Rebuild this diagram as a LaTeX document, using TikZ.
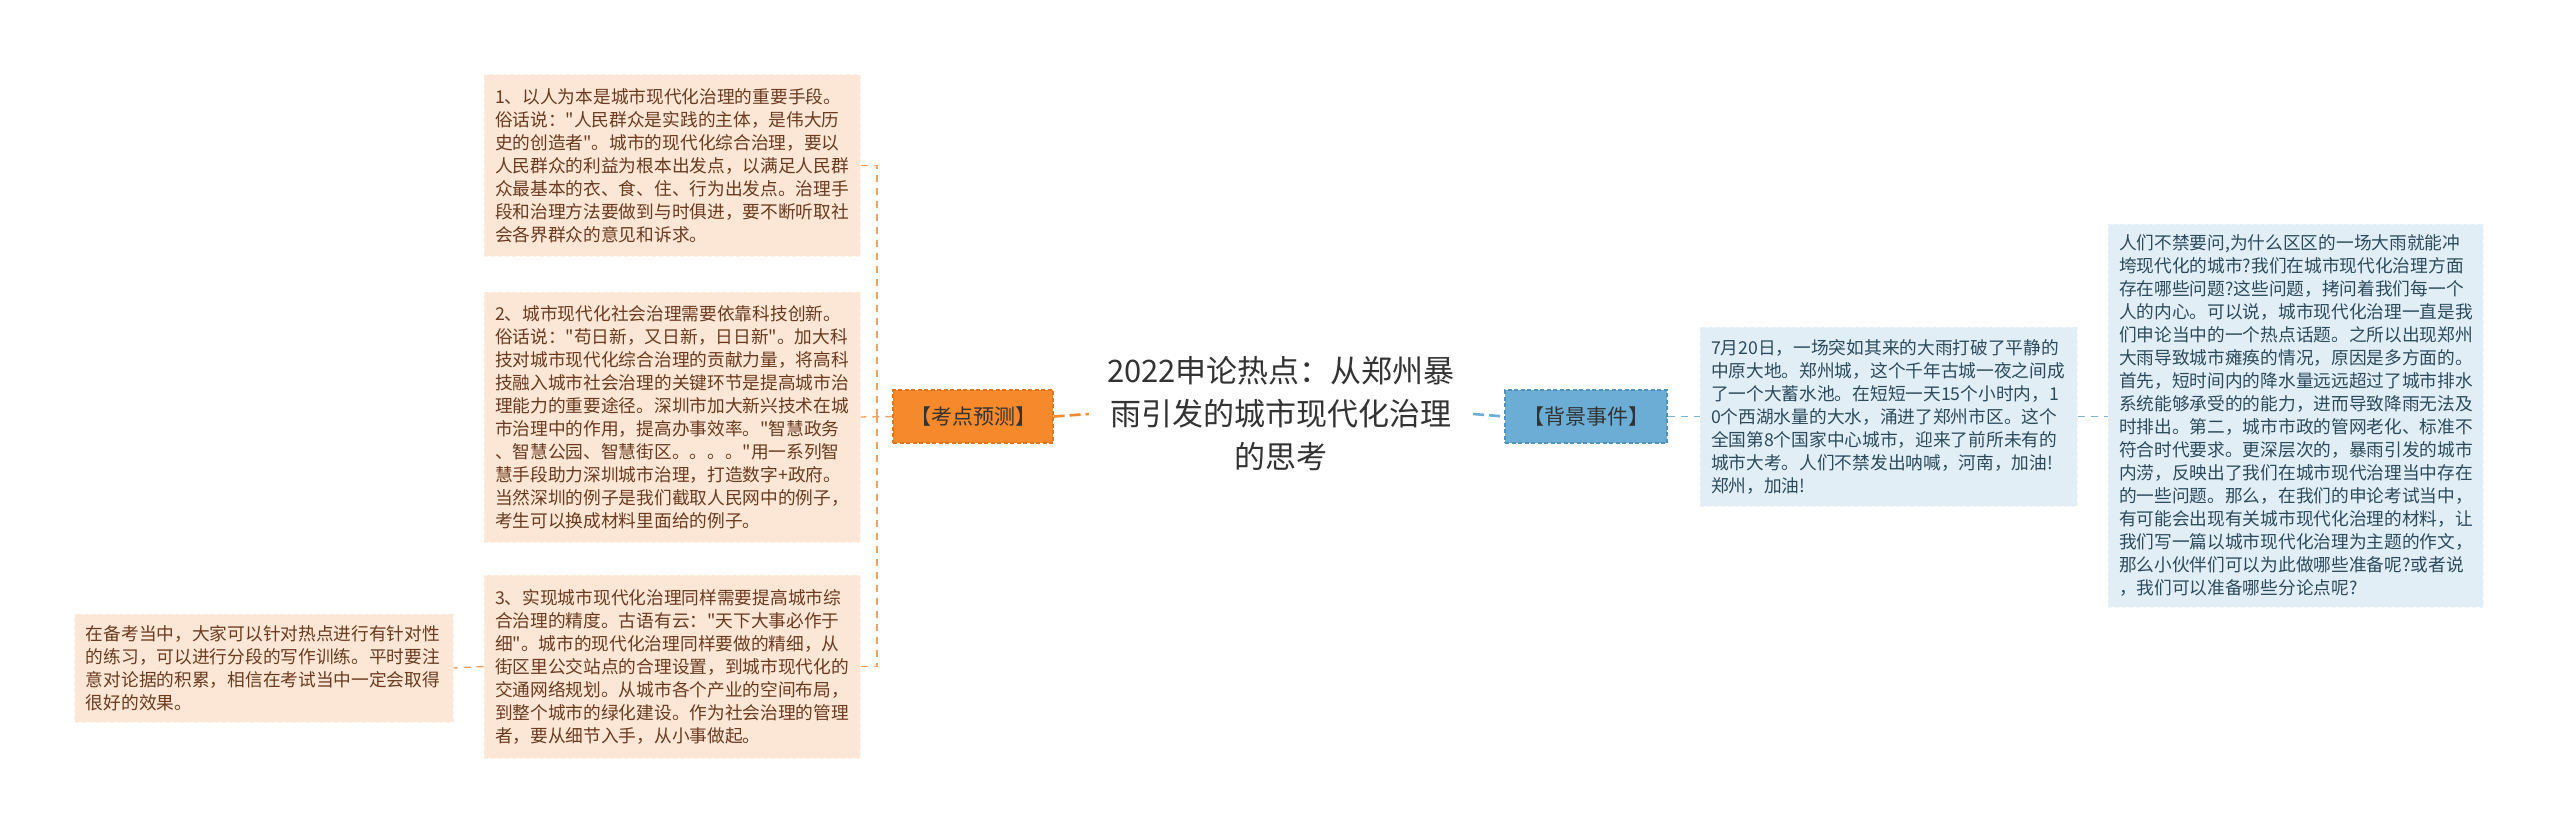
\documentclass[tikz,border=0pt]{standalone}
\usepackage{fontspec}
\newfontfamily\cjk{Noto Sans CJK SC}
\usetikzlibrary{backgrounds,calc}
\definecolor{peachfill}{HTML}{FCE7D6}
\definecolor{peachtext}{HTML}{6B3A1F}
\definecolor{bluefill}{HTML}{E2EEF6}
\definecolor{bluetext}{HTML}{2B4B5C}
\definecolor{orangefill}{HTML}{F5892B}
\definecolor{orangeedge}{HTML}{E3741A}
\definecolor{bluenode}{HTML}{6BADD5}
\definecolor{blueedge}{HTML}{4F94C0}
\definecolor{centerfill}{HTML}{EFEFE9}
\definecolor{orangeline}{HTML}{F0A060}
\definecolor{blueline}{HTML}{7DB3D4}
\definecolor{darktext}{HTML}{333333}
\begin{document}
\begin{tikzpicture}[x=1bp,y=-1bp,
  leafbox/.style={draw=white!45!peachfill, dash pattern=on 4bp off 3bp, line width=1bp,
    fill=peachfill, text=peachtext, font=\cjk\fontsize{17.7bp}{23bp}\selectfont,
    align=left, inner xsep=11bp, inner ysep=0bp, minimum width=#1},
  bluebox/.style={draw=white!45!bluefill, dash pattern=on 4bp off 3bp, line width=1bp,
    fill=bluefill, text=bluetext, font=\cjk\fontsize{17.7bp}{23bp}\selectfont,
    align=left, inner xsep=11bp, inner ysep=0bp, minimum width=#1},
  labelbox/.style={dash pattern=on 4bp off 2.5bp, line width=1.2bp,
    font=\cjk\fontsize{21bp}{25bp}\selectfont, minimum width=#1, minimum height=53bp, inner sep=0bp},
  thinorange/.style={draw=orangeline, line width=1.4bp, dash pattern=on 7bp off 6bp},
  thinblue/.style={draw=blueline, line width=1.4bp, dash pattern=on 7bp off 6bp},
  thickorange/.style={draw=orangefill, line width=2.6bp, dash pattern=on 11bp off 5bp},
  thickblue/.style={draw=bluenode, line width=2.6bp, dash pattern=on 11bp off 5bp},
]
\useasboundingbox[fill=white] (0,0) rectangle (2560,834);

% center
\node[font=\cjk\fontsize{31bp}{43bp}\selectfont, text=darktext, align=center,
  minimum width=384bp, minimum height=158bp, inner sep=0bp] (c) at (1281,414)
  {2022申论热点：从郑州暴\\雨引发的城市现代化治理\\的思考};
\begin{scope}[on background layer]
\fill[centerfill] (c.west) -- ($(c.north west)+(11,0)$) -- ($(c.north east)+(-11,0)$)
  -- (c.east) -- ($(c.south east)+(-11,0)$) -- ($(c.south west)+(11,0)$) -- cycle;
\end{scope}

% labels
\node[labelbox=160bp, fill=orangefill, draw=orangeedge, text=black!80] (o) at (973,416.5) {【考点预测】};
\node[labelbox=162bp, fill=bluenode, draw=blueedge, text=black!80] (bn) at (1586,416.5) {【背景事件】};

% left leaves
\node[leafbox=376bp, minimum height=181bp, text width=354bp] (b1) at (672,165.5)
{1、以人为本是城市现代化治理的重要手段。\\
俗话说："人民群众是实践的主体，是伟大历\\
史的创造者"。城市的现代化综合治理，要以\\
人民群众的利益为根本出发点，以满足人民群\\
众最基本的衣、食、住、行为出发点。治理手\\
段和治理方法要做到与时俱进，要不断听取社\\
会各界群众的意见和诉求。};

\node[leafbox=376bp, minimum height=250bp, text width=354bp] (b2) at (672,417)
{2、城市现代化社会治理需要依靠科技创新。\\
俗话说："苟日新，又日新，日日新"。加大科\\
技对城市现代化综合治理的贡献力量，将高科\\
技融入城市社会治理的关键环节是提高城市治\\
理能力的重要途径。深圳市加大新兴技术在城\\
市治理中的作用，提高办事效率。"智慧政务\\
、智慧公园、智慧街区。。。。"用一系列智\\
慧手段助力深圳城市治理，打造数字+政府。\\
当然深圳的例子是我们截取人民网中的例子，\\
考生可以换成材料里面给的例子。};

\node[leafbox=376bp, minimum height=183bp, text width=354bp] (b3) at (672,666.5)
{3、实现城市现代化治理同样需要提高城市综\\
合治理的精度。古语有云："天下大事必作于\\
细"。城市的现代化治理同样要做的精细，从\\
街区里公交站点的合理设置，到城市现代化的\\
交通网络规划。从城市各个产业的空间布局，\\
到整个城市的绿化建设。作为社会治理的管理\\
者，要从细节入手，从小事做起。};

\node[leafbox=378bp, minimum height=108bp, text width=356bp] (b4) at (264,668)
{在备考当中，大家可以针对热点进行有针对性\\
的练习，可以进行分段的写作训练。平时要注\\
意对论据的积累，相信在考试当中一定会取得\\
很好的效果。};

% right leaves
\node[bluebox=377bp, minimum height=179bp, text width=355bp] (bb) at (1888.5,416.5)
{7月20日，一场突如其来的大雨打破了平静的\\
中原大地。郑州城，这个千年古城一夜之间成\\
了一个大蓄水池。在短短一天15个小时内，1\\
0个西湖水量的大水，涌进了郑州市区。这个\\
全国第8个国家中心城市，迎来了前所未有的\\
城市大考。人们不禁发出呐喊，河南，加油!\\
郑州，加油!};

\node[bluebox=375bp, minimum height=383bp, text width=353bp] (rb) at (2295.5,415.5)
{人们不禁要问,为什么区区的一场大雨就能冲\\
垮现代化的城市?我们在城市现代化治理方面\\
存在哪些问题?这些问题，拷问着我们每一个\\
人的内心。可以说，城市现代化治理一直是我\\
们申论当中的一个热点话题。之所以出现郑州\\
大雨导致城市瘫痪的情况，原因是多方面的。\\
首先，短时间内的降水量远远超过了城市排水\\
系统能够承受的的能力，进而导致降雨无法及\\
时排出。第二，城市市政的管网老化、标准不\\
符合时代要求。更深层次的，暴雨引发的城市\\
内涝，反映出了我们在城市现代治理当中存在\\
的一些问题。那么，在我们的申论考试当中，\\
有可能会出现有关城市现代化治理的材料，让\\
我们写一篇以城市现代化治理为主题的作文，\\
那么小伙伴们可以为此做哪些准备呢?或者说\\
，我们可以准备哪些分论点呢?};

% connectors
\coordinate (tr) at (877,416.5);
\draw[thickorange] (o.east) -- (c.west);
\draw[thickblue] (c.east) -- (bn.west);
\draw[thinorange] (o.west) -- (b2.east);
\draw[thinorange] (b1.east) -| (tr);
\draw[thinorange] (b3.east) -| (tr);
\draw[thinorange] (b3.west) -- (b4.east);
\draw[thinblue] (bn.east) -- (bb.west);
\draw[thinblue] (bb.east) -- (bb.east -| rb.west);
\end{tikzpicture}
\end{document}
